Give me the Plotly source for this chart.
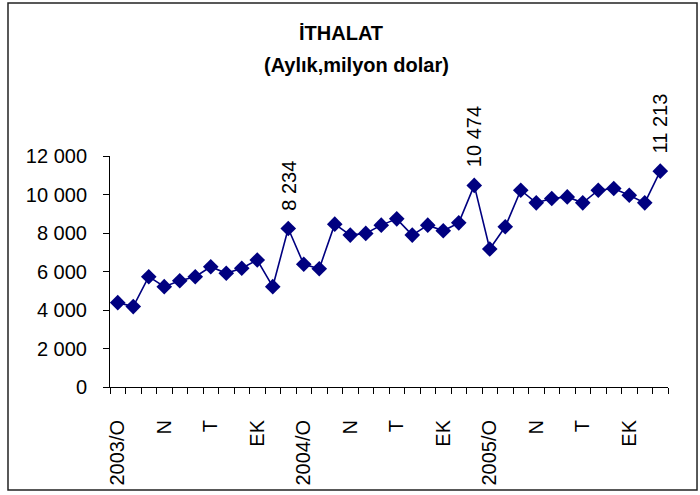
import plotly.graph_objects as go

months = [f"{y}-{m:02d}" for y in (2003, 2004, 2005) for m in range(1, 13)]
imports = [4383, 4176, 5730, 5212, 5523, 5730, 6249, 5907, 6166, 6596, 5212, 8234,
           6373, 6145, 8461, 7891, 7979, 8409, 8736, 7891, 8409, 8114, 8528, 10474,
           7166, 8321, 10223, 9565, 9793, 9876, 9565, 10223, 10311, 9964, 9565, 11213]
tick_pos = [0, 3, 6, 9, 12, 15, 18, 21, 24, 27, 30, 33]
tick_labels = ["2003/O", "N", "T", "EK", "2004/O", "N", "T", "EK", "2005/O", "N", "T", "EK"]
labeled_idx = [11, 23, 35]
y_ticks = [0, 2000, 4000, 6000, 8000, 10000, 12000]

x = list(range(len(months)))
NAVY = "#000080"
FONT = "Liberation Sans, Arial, sans-serif"

fig = go.Figure()
fig.add_trace(go.Scatter(
    x=x, y=imports, mode="lines+markers",
    line=dict(color=NAVY, width=1.6),
    marker=dict(symbol="diamond", size=12, color=NAVY),
    hovertext=months, showlegend=False,
))

def fmt(v):
    return f"{v:,}".replace(",", " ")

annotations = []
for i in labeled_idx:
    annotations.append(dict(
        x=x[i], y=imports[i], xref="x", yref="y", text=fmt(imports[i]),
        showarrow=False, textangle=-90, xanchor="center", yanchor="bottom",
        yshift=16, font=dict(family=FONT, size=20, color="black"),
    ))
annotations.append(dict(x=0.414, y=1.532, xref="paper", yref="paper", text="<b>İTHALAT</b>",
                        showarrow=False, xanchor="center", yanchor="middle",
                        font=dict(family=FONT, size=20, color="black")))
annotations.append(dict(x=0.441, y=1.394, xref="paper", yref="paper", text="<b>(Aylık,milyon dolar)</b>",
                        showarrow=False, xanchor="center", yanchor="middle",
                        font=dict(family=FONT, size=20, color="black")))

fig.update_layout(
    width=700, height=495,
    margin=dict(l=110, r=32, t=156, b=108),
    paper_bgcolor="white", plot_bgcolor="white",
    separators=", ",
    font=dict(family=FONT, size=20, color="black"),
    annotations=annotations,
    shapes=[dict(type="rect", xref="paper", yref="paper",
                 x0=-0.1828, x1=1.052, y0=-0.446, y1=1.662,
                 line=dict(color="#222222", width=1.5))],
)
fig.update_xaxes(
    range=[-0.5, len(months) - 0.5], showgrid=False, zeroline=False, automargin=False,
    showline=True, linecolor="black", linewidth=1,
    tickmode="array", tickvals=tick_pos, ticktext=tick_labels,
    tickangle=-90, ticks="", ticklabelstandoff=24,
    tickfont=dict(family=FONT, size=20, color="black"),
    minor=dict(ticks="outside", tick0=-0.5, dtick=1, ticklen=6, tickcolor="black", showgrid=False),
)
fig.update_yaxes(
    range=[0, 12000], tickmode="array", tickvals=y_ticks, tickformat=",d", automargin=False,
    showgrid=False, zeroline=False, showline=True, linecolor="black", linewidth=1,
    ticks="outside", ticklen=6, tickcolor="black", ticklabelstandoff=12,
    tickfont=dict(family=FONT, size=20, color="black"),
)

fig.write_html("out.html", config={"displayModeBar": False},
               post_script="document.body.style.margin='0';document.body.style.overflow='hidden';")
